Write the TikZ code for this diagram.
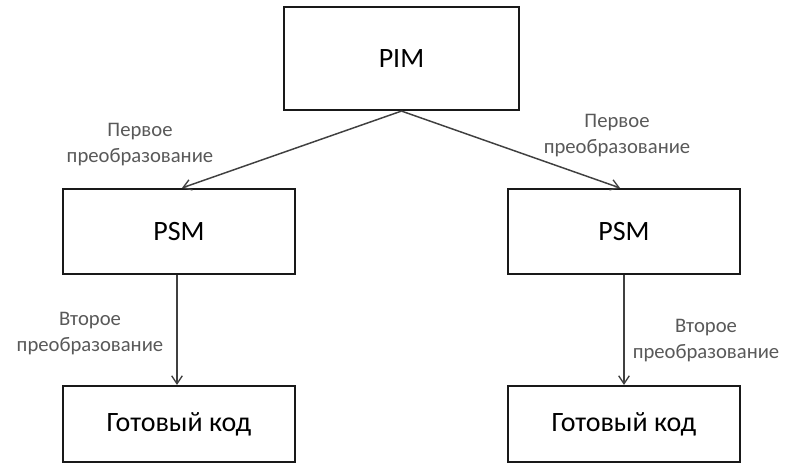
\documentclass[tikz,border=0pt]{standalone}
\usepackage{fontspec}
\setmainfont{Carlito}
\usetikzlibrary{arrows.meta}
\begin{document}
\begin{tikzpicture}[x=0.75pt,y=-0.75pt,
  box/.style={draw=black!90,line width=1.6pt,fill=white,inner sep=0pt,
    font=\fontsize{21}{25}\selectfont,text=black},
  conn/.style={draw=black!75,line width=1.1pt,-{Straight Barb[length=6pt,width=8pt,line width=1pt]}},
  lbl/.style={align=center,text=black!65,inner sep=0pt,font=\fontsize{15.5}{19.5}\selectfont}]
\useasboundingbox[fill=white] (0,0) rectangle (786,464);
\node[box,minimum width=176.25pt,minimum height=77.25pt] (pim) at (401.5,58.5) {PIM};
\node[box,minimum width=174pt,minimum height=63.75pt] (lpsm) at (179,231.5) {PSM};
\node[box,minimum width=174pt,minimum height=63.75pt] (rpsm) at (624,231.5) {PSM};
\node[box,minimum width=174pt,minimum height=57pt] (lcode) at (179,424) {Готовый код};
\node[box,minimum width=174pt,minimum height=57pt] (rcode) at (624,424) {Готовый код};
\draw[conn] (pim.south) -- ([xshift=2.25pt]lpsm.north);
\draw[conn] (pim.south) -- ([xshift=-3pt]rpsm.north);
\draw[conn] ([xshift=-1.5pt]lpsm.south) -- ([xshift=-1.5pt]lcode.north);
\draw[conn] (rpsm.south) -- (rcode.north);
\node[lbl] (l1) at (140,145) {Первое\\преобразование};
\node[lbl] (l2) at (617,136) {Первое\\преобразование};
\node[lbl] (l3) at (90,334) {Второе\\преобразование};
\node[lbl] (l4) at (706,341) {Второе\\преобразование};
\end{tikzpicture}
\end{document}
